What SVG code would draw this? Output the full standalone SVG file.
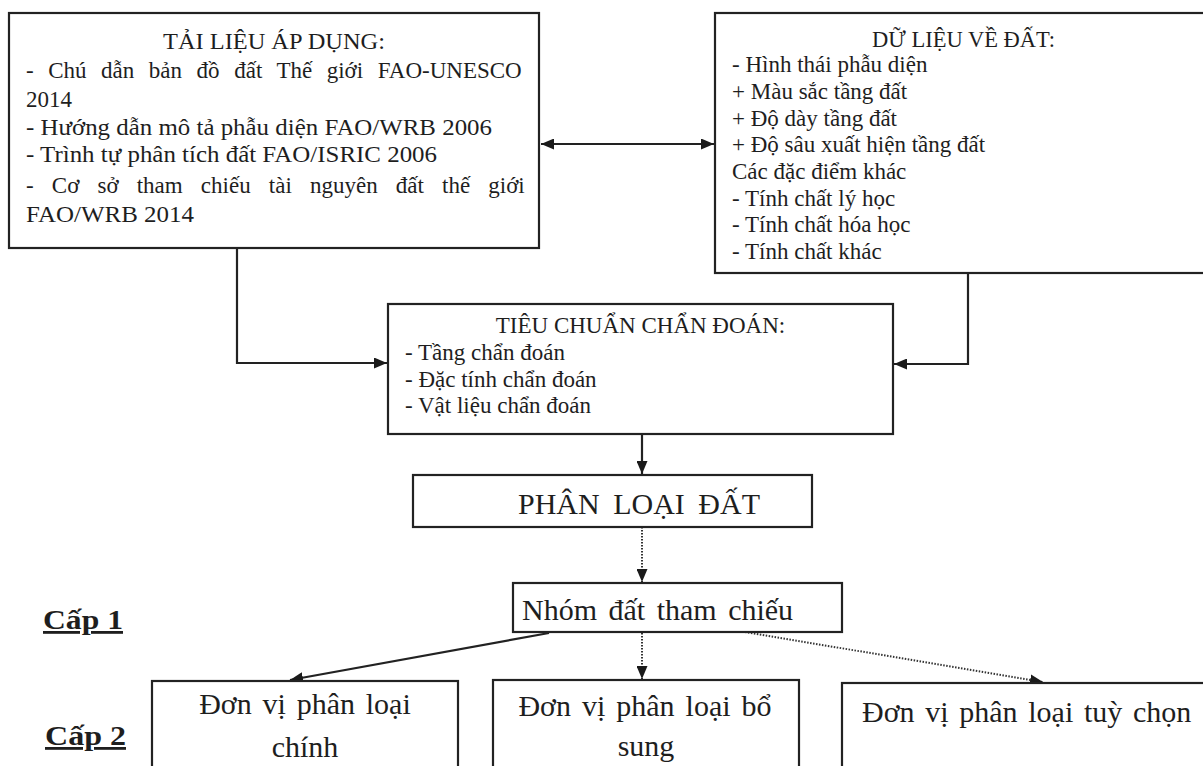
<svg xmlns="http://www.w3.org/2000/svg" width="1203" height="766" viewBox="0 0 1203 766">
<style>
  .box { fill: #ffffff; stroke: #222222; stroke-width: 2.2; }
  .t { font-family: "Liberation Serif", "Times New Roman", "Noto Sans CJK SC", serif; fill: #1e1e1e; }
  .s23 { font-size: 23px; }
  .s30 { font-size: 30px; }
  .lvl { font-size: 28px; font-weight: bold; text-decoration: underline; }
  .solid { fill: none; stroke: #222222; stroke-width: 2.2; }
  .dot { fill: none; stroke: #333333; stroke-width: 2; stroke-dasharray: 1.5 1.5; }
</style>
<defs>
  <marker id="arr" markerUnits="userSpaceOnUse" markerWidth="13" markerHeight="11" refX="13" refY="5.5" orient="auto-start-reverse">
    <path d="M0,0 L13,5.5 L0,11 z" fill="#1a1a1a"/>
  </marker>
</defs>

<g id="connectors">
  <line class="solid" x1="541" y1="144" x2="714" y2="144" marker-start="url(#arr)" marker-end="url(#arr)"/>
  <path class="solid" d="M237,248 V363 H387" marker-end="url(#arr)"/>
  <path class="solid" d="M968,273 V364 H894" marker-end="url(#arr)"/>
  <path class="solid" d="M642,434 V474" marker-end="url(#arr)"/>
  <path class="dot" d="M642,527 V582" marker-end="url(#arr)"/>
  <path class="solid" d="M549,633 L290,680" marker-end="url(#arr)"/>
  <path class="dot" d="M642,633 V679" marker-end="url(#arr)"/>
  <path class="dot" d="M745,632 L1043,682" marker-end="url(#arr)"/>
</g>

<g id="tai-lieu">
  <rect class="box" x="9" y="13" width="530" height="235"/>
  <text class="t s23" x="163" y="49" textLength="222" lengthAdjust="spacingAndGlyphs">TẢI LIỆU ÁP DỤNG:</text>
  <text class="t s23" x="26" y="78" word-spacing="8.8">- Chú dẫn bản đồ đất Thế giới FAO-UNESCO</text>
  <text class="t s23" x="26" y="107">2014</text>
  <text class="t s23" x="26" y="135" textLength="466" lengthAdjust="spacingAndGlyphs">- Hướng dẫn mô tả phẫu diện FAO/WRB 2006</text>
  <text class="t s23" x="26" y="162" textLength="411" lengthAdjust="spacingAndGlyphs">- Trình tự phân tích đất FAO/ISRIC 2006</text>
  <text class="t s23" x="26" y="193" word-spacing="12.4">- Cơ sở tham chiếu tài nguyên đất thế giới</text>
  <text class="t s23" x="26" y="222" textLength="168" lengthAdjust="spacingAndGlyphs">FAO/WRB 2014</text>
</g>

<g id="du-lieu">
  <rect class="box" x="715" y="13" width="500" height="260"/>
  <text class="t s23" x="872" y="47" textLength="183" lengthAdjust="spacingAndGlyphs">DỮ LIỆU VỀ ĐẤT:</text>
  <text class="t s23" x="732" y="72">- Hình thái phẫu diện</text>
  <text class="t s23" x="732" y="99">+ Màu sắc tầng đất</text>
  <text class="t s23" x="732" y="126">+ Độ dày tầng đất</text>
  <text class="t s23" x="732" y="152">+ Độ sâu xuất hiện tầng đất</text>
  <text class="t s23" x="732" y="179">Các đặc điểm khác</text>
  <text class="t s23" x="732" y="206">- Tính chất lý học</text>
  <text class="t s23" x="732" y="232">- Tính chất hóa học</text>
  <text class="t s23" x="732" y="259">- Tính chất khác</text>
</g>

<g id="tieu-chuan">
  <rect class="box" x="388" y="304" width="505" height="130"/>
  <text class="t s23" x="640.5" y="333" text-anchor="middle">TIÊU CHUẨN CHẨN ĐOÁN:</text>
  <text class="t s23" x="405" y="360">- Tầng chẩn đoán</text>
  <text class="t s23" x="405" y="387">- Đặc tính chẩn đoán</text>
  <text class="t s23" x="405" y="413">- Vật liệu chẩn đoán</text>
</g>

<g id="phan-loai">
  <rect class="box" x="413" y="475" width="399" height="52"/>
  <text class="t s30" x="518" y="514" word-spacing="6">PHÂN LOẠI ĐẤT</text>
</g>

<g id="nhom-dat">
  <rect class="box" x="513" y="583" width="329" height="49"/>
  <text class="t s30" x="522" y="620" word-spacing="4">Nhóm đất tham chiếu</text>
</g>

<g id="cap-1">
  <text class="t lvl" x="43" y="629" textLength="80" lengthAdjust="spacingAndGlyphs">Cấp 1</text>
</g>
<g id="cap-2">
  <text class="t lvl" x="45" y="745" textLength="81" lengthAdjust="spacingAndGlyphs">Cấp 2</text>
</g>

<g id="don-vi-chinh">
  <rect class="box" x="152" y="681" width="306" height="120"/>
  <text class="t s30" x="305" y="714" text-anchor="middle" word-spacing="3.3">Đơn vị phân loại</text>
  <text class="t s30" x="305" y="757" text-anchor="middle">chính</text>
</g>

<g id="don-vi-bo-sung">
  <rect class="box" x="493" y="680" width="306" height="120"/>
  <text class="t s30" x="645" y="716" text-anchor="middle" word-spacing="3.5">Đơn vị phân loại bổ</text>
  <text class="t s30" x="646" y="756" text-anchor="middle">sung</text>
</g>

<g id="don-vi-tuy-chon">
  <rect class="box" x="842" y="683" width="400" height="120"/>
  <text class="t s30" x="862" y="722" word-spacing="3.2">Đơn vị phân loại tuỳ chọn</text>
</g>
</svg>
